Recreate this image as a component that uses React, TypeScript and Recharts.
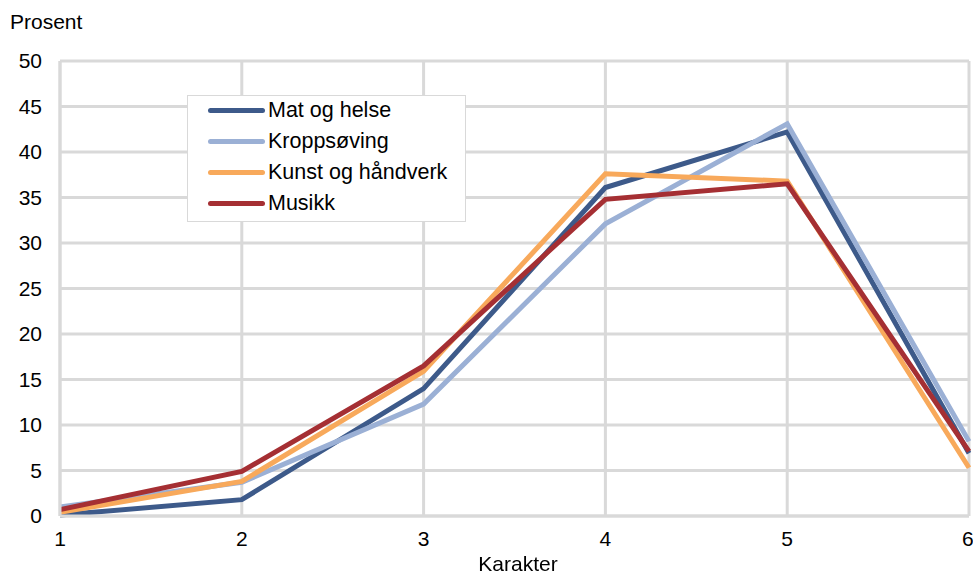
import React from 'react';
import { LineChart, Line, XAxis, YAxis, CartesianGrid } from 'recharts';

const karakterer = [1, 2, 3, 4, 5, 6];
const matOgHelse = [0.1, 1.8, 14.0, 36.1, 42.2, 6.9];
const kroppsoving = [1.0, 3.7, 12.3, 32.1, 43.1, 8.2];
const kunstOgHandverk = [0.4, 3.8, 15.9, 37.6, 36.8, 5.3];
const musikk = [0.7, 4.9, 16.5, 34.8, 36.5, 7.1];
const yTicks = [0, 5, 10, 15, 20, 25, 30, 35, 40, 45, 50];

const series = [
    { key: 'mat', name: 'Mat og helse', color: '#3D5A8A', values: matOgHelse },
    { key: 'kropp', name: 'Kroppsøving', color: '#9BB0D5', values: kroppsoving },
    { key: 'kunst', name: 'Kunst og håndverk', color: '#F8A95B', values: kunstOgHandverk },
    { key: 'musikk', name: 'Musikk', color: '#A52F33', values: musikk },
];

const chartData = karakterer.map((k, i) => {
    const row: any = { karakter: k };
    series.forEach((s) => { row[s.key] = s.values[i]; });
    return row;
});

const font = '"Liberation Sans", Arial, sans-serif';
const tickStyle = { fill: '#000', fontSize: 21, fontFamily: font };

export default function App() {
    return (
        <div style={{ position: 'fixed', left: 0, top: 0, width: 973, height: 575, background: '#fff', fontFamily: font }}>
            <LineChart width={973} height={575} data={chartData} margin={{ top: 61, right: 4, bottom: 29, left: 0 }}>
                <CartesianGrid stroke="#D9D9D9" strokeWidth={3} />
                <XAxis
                    dataKey="karakter"
                    type="number"
                    domain={[1, 6]}
                    ticks={karakterer}
                    tickLine={false}
                    axisLine={{ stroke: '#D9D9D9', strokeWidth: 3 }}
                    tick={tickStyle}
                    tickMargin={9}
                    height={30}
                />
                <YAxis
                    domain={[0, 50]}
                    ticks={yTicks}
                    tickLine={false}
                    axisLine={{ stroke: '#D9D9D9', strokeWidth: 3 }}
                    tick={tickStyle}
                    tickMargin={12}
                    width={60}
                />
                {series.map((s) => (
                    <Line
                        key={s.key}
                        type="linear"
                        dataKey={s.key}
                        name={s.name}
                        stroke={s.color}
                        strokeWidth={5}
                        dot={false}
                        isAnimationActive={false}
                    />
                ))}
            </LineChart>
            <div style={{ position: 'absolute', left: 10, top: 10, fontSize: 21 }}>Prosent</div>
            <div style={{ position: 'absolute', left: 0, width: 1036, top: 552, fontSize: 21, textAlign: 'center' }}>Karakter</div>
            <div style={{ position: 'absolute', left: 187, top: 95, width: 277, height: 125, border: '1px solid #D9D9D9', background: '#fff', fontSize: 21.5, boxSizing: 'content-box' }}>
                {series.map((s, i) => (
                    <div key={s.key} style={{ position: 'absolute', left: 20, top: 0 + i * 31, height: 28, display: 'flex', alignItems: 'center', whiteSpace: 'nowrap' }}>
                        <span style={{ display: 'inline-block', width: 57, height: 5, borderRadius: 3, background: s.color, marginRight: 3 }} />
                        <span>{s.name}</span>
                    </div>
                ))}
            </div>
        </div>
    );
}
